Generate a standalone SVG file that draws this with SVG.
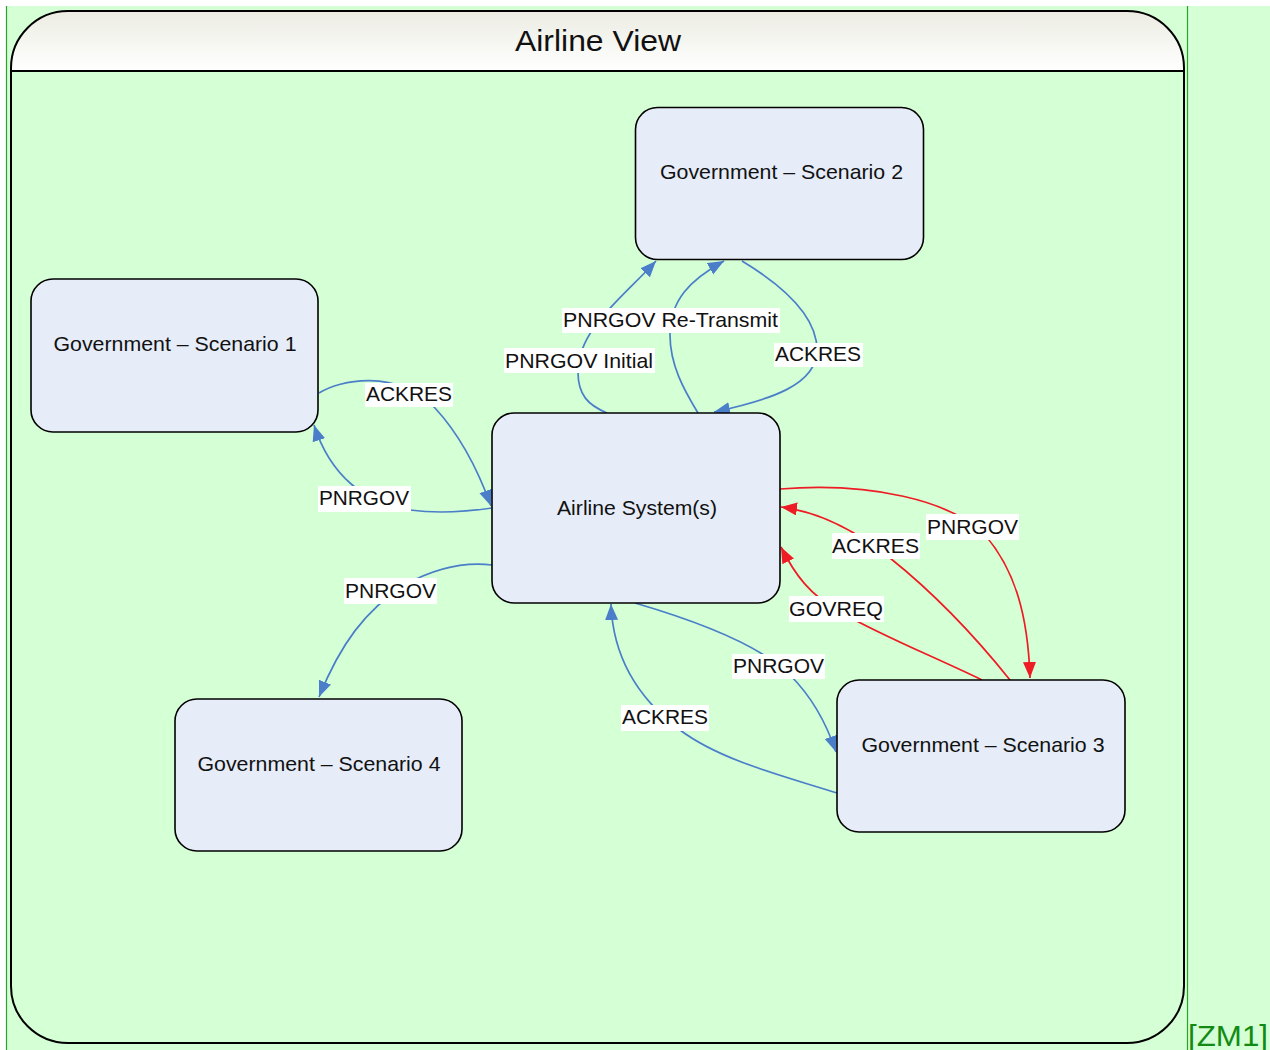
<svg xmlns="http://www.w3.org/2000/svg" width="1270" height="1050" viewBox="0 0 1270 1050">
<defs>
<linearGradient id="hdr" gradientUnits="userSpaceOnUse" x1="0" y1="11" x2="0" y2="71">
<stop offset="0" stop-color="#ECECE3"/>
<stop offset="1" stop-color="#FFFFFF"/>
</linearGradient>
<clipPath id="hclip"><rect x="0" y="0" width="1270" height="71"/></clipPath>
<marker id="ab" markerUnits="userSpaceOnUse" markerWidth="18" markerHeight="14" refX="16" refY="6.5" orient="auto"><path d="M0,0 L16,6.5 L0,13 Z" fill="#4A7EC9"/></marker>
<marker id="ar" markerUnits="userSpaceOnUse" markerWidth="18" markerHeight="14" refX="16" refY="6.5" orient="auto"><path d="M0,0 L16,6.5 L0,13 Z" fill="#EE1C25"/></marker>
<style>
.node rect{fill:#E6ECF8;stroke:#000;stroke-width:1.6}
.node text{font-family:"Liberation Sans",Arial,sans-serif;font-size:21px;fill:#111;text-anchor:middle}
.e{fill:none;stroke-width:1.7}
.b{stroke:#4A7EC9;marker-end:url(#ab)}
.r{stroke:#EE1C25;marker-end:url(#ar)}
.lbl rect{fill:#FFFFFF}
.lbl text{font-family:"Liberation Sans",Arial,sans-serif;font-size:21px;fill:#111}
</style>
</defs>
<rect x="0" y="0" width="1270" height="1050" fill="#FFFFFF"/>
<rect x="6" y="6" width="1264" height="1044" fill="#D5FFD5"/>
<line x1="6.5" y1="6" x2="6.5" y2="1050" stroke="#2E9E2E" stroke-width="1.2"/>
<line x1="1187.5" y1="6" x2="1187.5" y2="1050" stroke="#2E9E2E" stroke-width="1.2"/>
<g id="container">
<rect x="11" y="11" width="1173" height="1032" rx="57" ry="57" fill="url(#hdr)" clip-path="url(#hclip)"/>
<rect x="11" y="11" width="1173" height="1032" rx="57" ry="57" fill="none" stroke="#000" stroke-width="2"/>
<line x1="11" y1="71" x2="1184" y2="71" stroke="#000" stroke-width="2"/>
<text x="598" y="51" font-family="Liberation Sans,Arial,sans-serif" font-size="30" fill="#111" text-anchor="middle" textLength="166" lengthAdjust="spacingAndGlyphs">Airline View</text>
</g>
<text x="1188" y="1046" font-family="Liberation Sans,Arial,sans-serif" font-size="30" fill="#138A13" textLength="80" lengthAdjust="spacingAndGlyphs">[ZM1]</text>
<g id="connectors">
<path class="e b" d="M607,413 C588,405 578,395 578,372 C578,330 620,300 656,261"/>
<path class="e b" d="M698,413 C684,390 670,365 670,335 C670,300 690,280 724,261"/>
<path class="e b" d="M742,261 C790,290 817,320 817,350 C817,385 770,400 714,412"/>
<path class="e b" d="M319,393 C340,380 395,368 435,408 C460,435 478,470 491,506"/>
<path class="e b" d="M492,508 C465,512 440,514 410,510 C365,504 330,475 314,425"/>
<path class="e b" d="M492,565 C465,562 435,568 405,585 C365,610 340,645 319,697"/>
<path class="e b" d="M635,603 C700,622 760,645 790,675 C815,700 828,728 836,752"/>
<path class="e b" d="M837,793 C780,775 720,760 680,730 C640,700 613,660 611,604"/>
<path class="e r" d="M780,489 C870,482 950,500 985,535 C1015,570 1028,615 1030,678"/>
<path class="e r" d="M1010,680 C970,630 930,590 890,558 C855,530 820,512 781,507"/>
<path class="e r" d="M982,680 C930,655 880,635 840,612 C810,595 795,575 781,547"/>
</g>
<g id="labels">
<g class="lbl"><rect x="504" y="348" width="151" height="25"/><text x="505" y="368" textLength="148" lengthAdjust="spacingAndGlyphs">PNRGOV Initial</text></g>
<g class="lbl"><rect x="562" y="308" width="218" height="25"/><text x="563" y="327" textLength="215" lengthAdjust="spacingAndGlyphs">PNRGOV Re-Transmit</text></g>
<g class="lbl"><rect x="774" y="343" width="89" height="24"/><text x="775" y="361" textLength="86" lengthAdjust="spacingAndGlyphs">ACKRES</text></g>
<g class="lbl"><rect x="365" y="383" width="88" height="24"/><text x="366" y="401" textLength="86" lengthAdjust="spacingAndGlyphs">ACKRES</text></g>
<g class="lbl"><rect x="318" y="486" width="93" height="26"/><text x="319" y="505" textLength="90" lengthAdjust="spacingAndGlyphs">PNRGOV</text></g>
<g class="lbl"><rect x="344" y="578" width="93" height="26"/><text x="345" y="598" textLength="91" lengthAdjust="spacingAndGlyphs">PNRGOV</text></g>
<g class="lbl"><rect x="732" y="654" width="93" height="25"/><text x="733" y="673" textLength="91" lengthAdjust="spacingAndGlyphs">PNRGOV</text></g>
<g class="lbl"><rect x="621" y="705" width="88" height="26"/><text x="622" y="724" textLength="86" lengthAdjust="spacingAndGlyphs">ACKRES</text></g>
<g class="lbl"><rect x="926" y="514" width="93" height="26"/><text x="927" y="534" textLength="91" lengthAdjust="spacingAndGlyphs">PNRGOV</text></g>
<g class="lbl"><rect x="832" y="533" width="88" height="26"/><text x="832" y="553" textLength="87" lengthAdjust="spacingAndGlyphs">ACKRES</text></g>
<g class="lbl"><rect x="789" y="596" width="95" height="26"/><text x="789" y="616" textLength="94" lengthAdjust="spacingAndGlyphs">GOVREQ</text></g>
</g>
<g id="scenario2" class="node"><rect x="635.5" y="107.5" width="288" height="152" rx="22"/><text x="781.5" y="179" textLength="243" lengthAdjust="spacingAndGlyphs">Government – Scenario 2</text></g>
<g id="scenario1" class="node"><rect x="31" y="279" width="287" height="153" rx="22"/><text x="175" y="351" textLength="243" lengthAdjust="spacingAndGlyphs">Government – Scenario 1</text></g>
<g id="airline" class="node"><rect x="492" y="413" width="288" height="190" rx="22"/><text x="637" y="515" textLength="160" lengthAdjust="spacingAndGlyphs">Airline System(s)</text></g>
<g id="scenario4" class="node"><rect x="175" y="699" width="287" height="152" rx="22"/><text x="319" y="771" textLength="243" lengthAdjust="spacingAndGlyphs">Government – Scenario 4</text></g>
<g id="scenario3" class="node"><rect x="837" y="680" width="288" height="152" rx="22"/><text x="983" y="752" textLength="243" lengthAdjust="spacingAndGlyphs">Government – Scenario 3</text></g>
</svg>
